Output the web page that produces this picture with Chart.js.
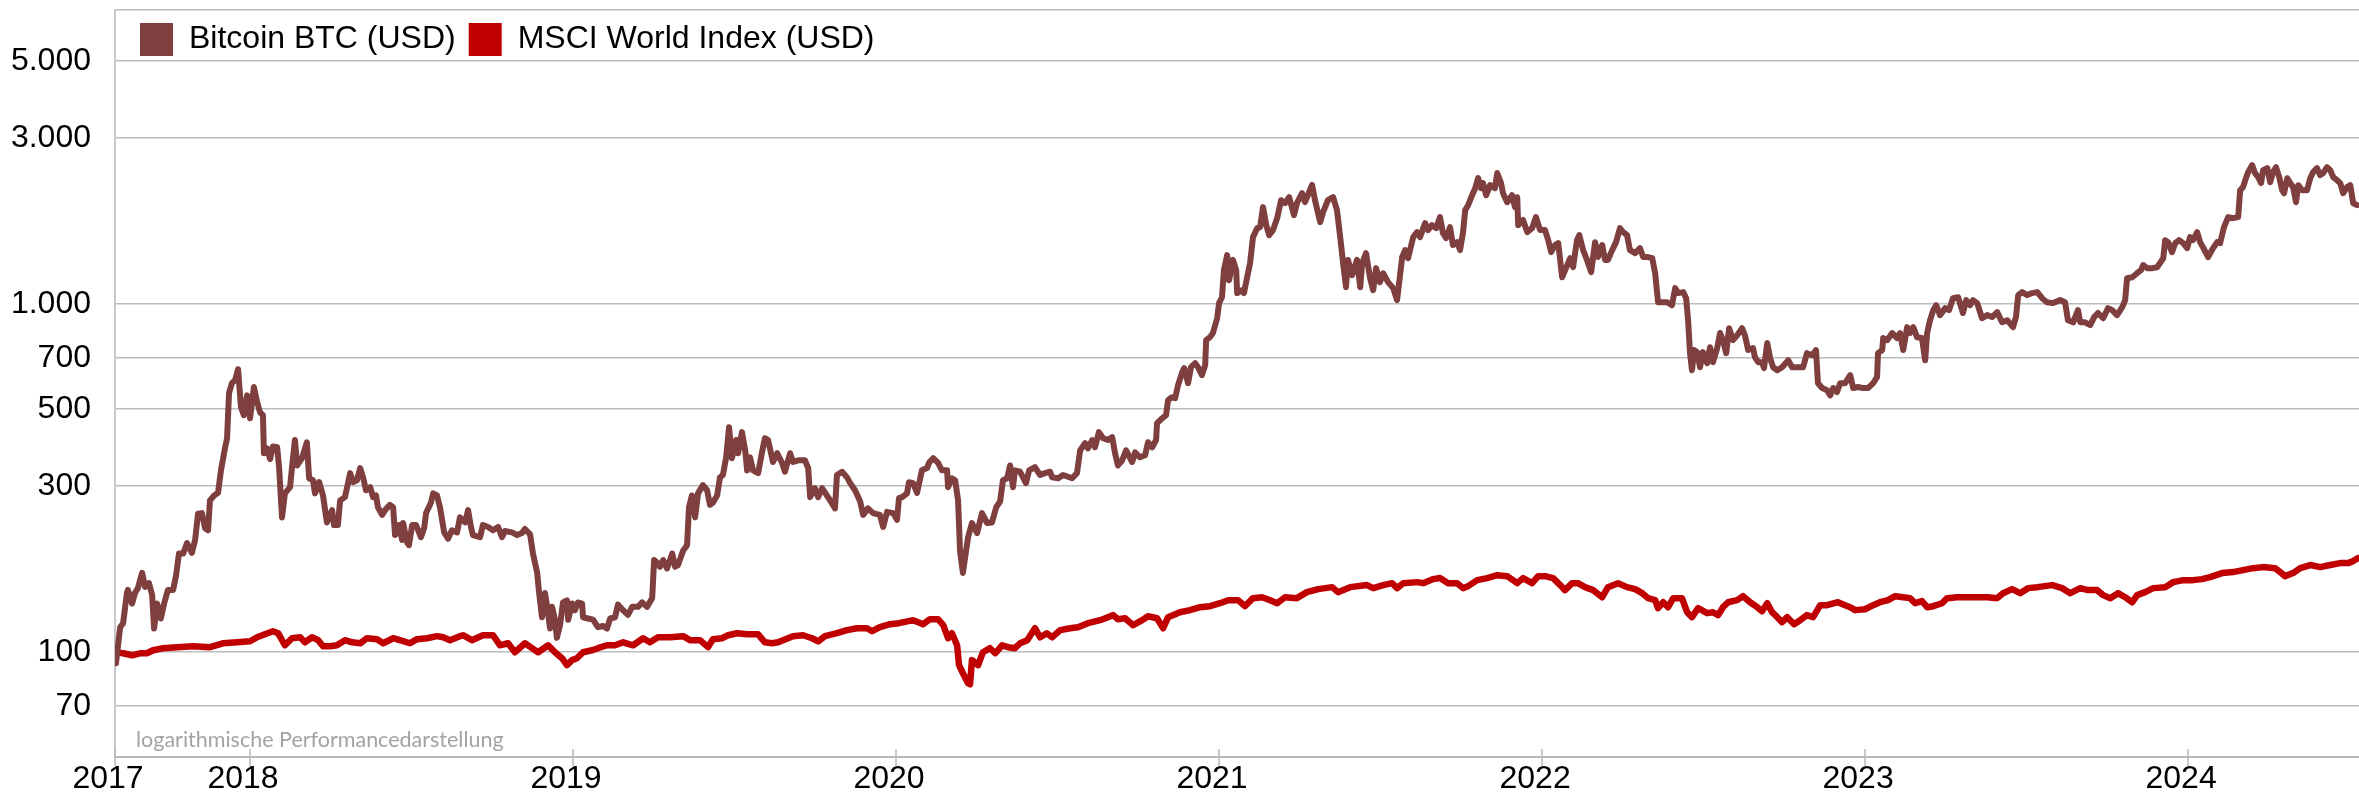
<!DOCTYPE html>
<html>
<head>
<meta charset="utf-8">
<script src="https://cdn.jsdelivr.net/npm/chart.js@4.4.1/dist/chart.umd.min.js"></script>
<style>
html,body{margin:0;padding:0;background:#fff;}
#wrap{position:relative;width:2359px;height:793px;}
</style>
</head>
<body>
<div id="wrap"><canvas id="c"></canvas></div>
<script>
const seriesNames = ['Bitcoin BTC (USD)', 'MSCI World Index (USD)'];

const btcDates = [
2017.582,2017.585,2017.598,2017.607,2017.619,2017.622,2017.635,2017.644,2017.653,2017.666,2017.675,2017.687,2017.697,2017.703,2017.712,2017.724,2017.734,2017.746,2017.762,2017.771,2017.780,2017.793,2017.805,2017.820,2017.830,2017.839,2017.851,2017.861,2017.870,2017.876,2017.889,2017.901,2017.910,2017.923,2017.929,2017.935,2017.944,2017.954,2017.963,2017.972,2017.981,2017.991,
2018.000,2018.012,2018.022,2018.031,2018.040,2018.043,2018.053,2018.062,2018.071,2018.084,2018.090,2018.099,2018.108,2018.124,2018.130,2018.139,2018.146,2018.161,2018.176,2018.183,2018.195,2018.201,2018.214,2018.226,2018.238,2018.254,2018.260,2018.272,2018.279,2018.294,2018.310,2018.319,2018.331,2018.341,2018.350,2018.359,2018.372,2018.381,2018.390,2018.396,2018.409,2018.418,2018.433,2018.443,2018.449,2018.461,2018.471,2018.474,2018.486,2018.492,2018.502,2018.514,2018.529,2018.539,2018.545,2018.560,2018.567,2018.579,2018.588,2018.601,2018.613,2018.625,2018.641,2018.650,
2018.666,2018.675,2018.684,2018.690,2018.712,2018.721,2018.737,2018.752,2018.768,2018.780,2018.789,2018.811,2018.827,2018.842,2018.851,2018.867,2018.876,2018.889,2018.895,2018.904,2018.913,2018.920,2018.929,2018.935,2018.944,2018.950,2018.960,2018.969,2018.981,2018.985,2018.997,
2019.006,2019.015,2019.028,2019.031,2019.046,2019.062,2019.077,2019.093,2019.105,2019.115,2019.130,2019.139,2019.155,2019.170,2019.183,2019.201,2019.214,2019.229,2019.245,2019.251,2019.260,2019.269,2019.279,2019.291,2019.307,2019.316,2019.325,2019.341,2019.353,2019.359,2019.368,2019.378,2019.387,2019.402,2019.415,2019.424,2019.433,2019.446,2019.455,2019.464,2019.474,2019.483,2019.492,2019.505,2019.511,2019.523,2019.533,2019.539,2019.548,2019.557,2019.573,2019.585,2019.594,2019.604,2019.619,2019.632,2019.647,2019.656,2019.672,2019.681,2019.697,2019.718,2019.728,2019.734,2019.749,2019.759,2019.771,2019.786,2019.796,2019.811,2019.817,2019.833,2019.848,2019.858,2019.873,2019.889,2019.898,2019.913,2019.929,2019.950,2019.960,2019.972,2019.991,
2020.003,2020.009,2020.019,2020.034,2020.040,2020.053,2020.065,2020.080,2020.096,2020.102,2020.115,2020.130,2020.142,2020.158,2020.161,2020.173,2020.183,2020.192,2020.198,2020.207,2020.214,2020.223,2020.235,2020.251,2020.266,2020.282,2020.297,2020.310,2020.322,2020.331,2020.344,2020.353,2020.362,2020.368,2020.384,2020.402,2020.412,2020.430,2020.446,2020.461,2020.477,2020.483,2020.502,2020.517,2020.545,2020.560,2020.570,2020.585,2020.594,2020.607,2020.616,2020.628,2020.641,2020.656,2020.669,2020.678,2020.687,2020.700,2020.712,2020.731,2020.740,2020.755,2020.771,2020.780,2020.793,2020.805,2020.808,2020.824,2020.836,2020.842,2020.854,2020.864,2020.873,2020.885,2020.892,2020.904,2020.913,2020.926,2020.935,2020.947,2020.957,2020.960,2020.972,2020.981,2020.994,
2021.000,2021.009,2021.015,2021.025,2021.031,2021.043,2021.053,2021.056,2021.071,2021.077,2021.087,2021.096,2021.105,2021.118,2021.127,2021.136,2021.146,2021.155,2021.167,2021.180,2021.192,2021.204,2021.217,2021.232,2021.241,2021.257,2021.266,2021.279,2021.288,2021.297,2021.313,2021.322,2021.337,2021.353,2021.365,2021.375,2021.384,2021.393,2021.399,2021.412,2021.427,2021.437,2021.443,2021.455,2021.467,2021.477,2021.486,2021.498,2021.508,2021.523,2021.539,2021.551,2021.567,2021.576,2021.585,2021.601,2021.613,2021.622,2021.638,2021.647,2021.659,2021.672,2021.684,2021.693,2021.703,2021.715,2021.724,2021.737,2021.746,2021.755,2021.762,2021.771,2021.786,2021.793,2021.802,2021.811,2021.817,2021.827,2021.839,2021.854,2021.861,2021.873,2021.879,2021.892,2021.907,2021.916,2021.923,2021.926,2021.941,2021.954,2021.969,2021.981,2021.994,
2022.009,2022.019,2022.028,2022.040,2022.050,2022.062,2022.074,2022.087,2022.096,2022.108,2022.115,2022.127,2022.139,2022.152,2022.164,2022.173,2022.186,2022.195,2022.204,2022.217,2022.229,2022.241,2022.251,2022.263,2022.272,2022.288,2022.303,2022.313,2022.328,2022.341,2022.350,2022.359,2022.387,2022.402,2022.412,2022.421,2022.437,2022.446,2022.452,2022.458,2022.464,2022.471,2022.480,2022.489,2022.498,2022.511,2022.520,2022.529,2022.542,2022.551,2022.560,2022.570,2022.579,2022.591,2022.604,2022.619,2022.628,2022.638,2022.653,2022.659,2022.669,2022.681,2022.687,2022.697,2022.706,2022.715,2022.728,2022.743,2022.762,2022.774,2022.789,2022.808,2022.820,2022.836,2022.848,2022.854,2022.867,2022.882,2022.892,2022.901,2022.913,2022.923,2022.938,2022.954,2022.963,2022.978,2022.994,
2023.009,2023.025,2023.037,2023.040,2023.053,2023.056,2023.068,2023.084,2023.099,2023.108,2023.118,2023.130,2023.139,2023.149,2023.161,2023.176,2023.186,2023.192,2023.201,2023.211,2023.220,2023.232,2023.248,2023.260,2023.272,2023.288,2023.303,2023.313,2023.325,2023.334,2023.347,2023.362,2023.378,2023.393,2023.409,2023.424,2023.440,2023.458,2023.467,2023.474,2023.486,2023.502,2023.517,2023.533,2023.548,2023.563,2023.582,2023.604,2023.619,2023.628,2023.644,2023.659,2023.666,2023.681,2023.697,2023.709,2023.721,2023.737,2023.752,2023.765,2023.780,2023.796,2023.805,2023.811,2023.827,2023.842,2023.854,2023.861,2023.873,2023.889,2023.904,2023.913,2023.923,2023.929,2023.938,2023.950,2023.960,2023.972,2023.985,2023.997,
2024.006,2024.015,2024.028,2024.037,2024.046,2024.062,2024.077,2024.090,2024.099,2024.111,2024.124,2024.139,2024.155,2024.161,2024.170,2024.180,2024.186,2024.198,2024.207,2024.217,2024.226,2024.232,2024.245,2024.254,2024.263,2024.272,2024.282,2024.291,2024.297,2024.307,2024.316,2024.325,2024.334,2024.341,2024.353,2024.368,2024.378,2024.387,2024.399,2024.409,2024.418,2024.430,2024.440,2024.449,2024.461,2024.471,2024.480,2024.492,2024.502,2024.511,2024.523
];
const btcValues = [
100,93,118,121,148,151,138,148,153,169,154,158,146,117,138,125,138,151,151,166,192,192,206,193,210,250,251,227,224,273,282,287,333,388,412,555,593,605,650,506,480,547,
470,578,523,489,480,373,385,359,390,388,340,244,286,298,340,407,344,361,401,316,312,286,308,282,236,256,232,232,273,279,327,308,312,338,318,292,298,279,282,261,248,256,265,261,217,232,210,235,207,203,232,232,214,227,251,269,286,282,261,221,212,224,221,244,
236,256,229,217,214,232,229,224,229,214,223,221,217,220,226,218,192,169,148,126,148,135,117,135,124,110,120,139,141,124,138,
132,139,138,126,125,124,118,119,117,125,126,137,132,128,135,135,139,135,143,184,181,176,184,174,192,176,178,196,203,261,282,244,286,302,292,265,269,282,318,323,363,443,361,407,373,429,380,333,363,333,327,375,412,407,352,373,350,330,373,352,356,356,338,279,296,279,296,282,273,259,323,330,318,306,292,271,248,259,251,248,229,253,251,
240,277,279,286,308,306,287,333,338,350,361,350,333,333,298,316,312,273,196,169,188,214,235,220,251,235,236,261,271,312,316,344,298,333,330,306,333,340,323,327,330,318,316,323,316,327,380,399,385,407,388,429,412,407,415,373,344,356,380,352,375,363,368,401,388,407,455,470,480,530,540,537,585,634,655,593,659,677,659,625,668,788,804,826,911,
1007,1047,1252,1383,1172,1340,1252,1076,1097,1076,1195,1312,1558,1653,1664,1900,1687,1579,1632,1767,1989,1950,2029,1802,1950,2083,1963,2100,2200,1989,1720,1839,1989,2029,1863,1558,1312,1119,1340,1211,1340,1119,1312,1401,1195,1097,1269,1157,1227,1157,1112,1027,1366,1430,1355,1558,1611,1558,1709,1632,1687,1653,1779,1600,1548,1664,1478,1507,1430,1600,1863,1925,2083,2154,2302,2154,2227,2055,2197,2154,2380,2227,2083,1963,2055,1900,2029,1687,1745,1611,1653,1779,1632,
1632,1527,1411,1478,1497,1195,1269,1355,1277,1527,1579,1430,1340,1236,1507,1366,1478,1340,1340,1430,1507,1653,1611,1579,1430,1401,1448,1366,1366,1355,1227,1013,1013,993,1112,1076,1083,1040,899,723,646,738,728,659,728,677,752,681,748,826,788,723,853,788,814,853,814,738,748,704,681,681,655,773,700,659,646,659,690,659,659,659,723,713,738,593,574,566,547,574,559,593,593,625,574,578,574,
574,593,617,723,738,799,788,826,799,826,738,859,826,859,803,799,690,826,899,961,993,930,974,961,1040,1047,943,1027,993,1027,1007,911,930,918,949,887,899,859,918,1062,1083,1062,1076,1083,1040,1013,1007,1027,1013,899,887,961,887,887,871,918,943,911,974,961,930,981,1027,1187,1195,1227,1252,1295,1269,1269,1277,1312,1355,1527,1507,1411,1497,1527,1497,1448,
1558,1527,1611,1507,1458,1366,1448,1507,1497,1664,1779,1767,1779,2125,2169,2317,2395,2508,2380,2317,2227,2427,2459,2241,2395,2475,2317,2125,2083,2300,2227,2169,1963,2197,2125,2125,2300,2395,2459,2348,2380,2475,2427,2317,2271,2227,2083,2169,2197,1950,1925
];

const msciDates = [
2017.582,2017.607,2017.635,2017.659,2017.681,2017.700,2017.731,2017.774,2017.824,2017.876,2017.916,2017.960,
2018.000,2018.022,2018.046,2018.071,2018.087,2018.108,2018.130,2018.155,2018.170,2018.192,2018.211,2018.226,2018.248,2018.269,2018.294,2018.316,2018.341,2018.362,2018.393,2018.412,2018.443,2018.464,2018.495,2018.517,2018.548,2018.579,2018.598,2018.619,2018.650,2018.659,2018.687,2018.721,2018.752,2018.774,2018.799,2018.820,2018.851,2018.873,2018.892,2018.923,2018.944,2018.966,2018.981,2018.997,
2019.012,2019.031,2019.059,2019.077,2019.105,2019.130,2019.155,2019.186,2019.217,2019.238,2019.263,2019.300,2019.341,2019.362,2019.393,2019.418,2019.433,2019.461,2019.480,2019.508,2019.539,2019.573,2019.594,2019.616,2019.635,2019.650,2019.681,2019.712,2019.740,2019.759,2019.780,2019.817,2019.848,2019.879,2019.910,2019.926,2019.950,2019.981,
2020.009,2020.053,2020.084,2020.105,2020.130,2020.146,2020.161,2020.173,2020.189,2020.195,2020.207,2020.223,2020.229,2020.235,2020.254,2020.269,2020.291,2020.307,2020.328,2020.347,2020.368,2020.384,2020.406,2020.430,2020.446,2020.467,2020.483,2020.508,2020.539,2020.563,2020.594,2020.632,2020.656,2020.672,2020.687,2020.709,2020.734,2020.762,2020.780,2020.808,2020.827,2020.842,2020.879,2020.910,2020.941,2020.972,
2021.003,2021.028,2021.059,2021.080,2021.105,2021.133,2021.158,2021.180,2021.204,2021.241,2021.272,2021.307,2021.350,2021.368,2021.406,2021.458,2021.477,2021.508,2021.536,2021.551,2021.570,2021.613,2021.632,2021.663,2021.684,2021.709,2021.737,2021.755,2021.771,2021.799,2021.830,2021.861,2021.892,2021.923,2021.941,2021.969,2021.988,
2022.009,2022.034,2022.056,2022.071,2022.093,2022.111,2022.133,2022.158,2022.186,2022.204,2022.235,2022.263,2022.288,2022.310,2022.328,2022.350,2022.359,2022.375,2022.390,2022.406,2022.433,2022.449,2022.464,2022.483,2022.511,2022.529,2022.545,2022.560,2022.576,2022.604,2022.622,2022.644,2022.666,2022.681,2022.697,2022.712,2022.728,2022.743,2022.759,2022.780,2022.799,2022.820,2022.839,2022.861,2022.882,2022.916,2022.938,2022.954,2022.969,
2023.000,2023.025,2023.046,2023.071,2023.093,2023.118,2023.139,2023.155,2023.176,2023.192,2023.211,2023.238,2023.254,2023.285,2023.316,2023.347,2023.378,2023.409,2023.427,2023.455,2023.480,2023.505,2023.533,2023.579,2023.610,2023.635,2023.666,2023.690,2023.718,2023.737,2023.759,2023.783,2023.805,2023.827,2023.842,2023.867,2023.892,2023.929,2023.954,2023.985,
2024.015,2024.043,2024.068,2024.105,2024.139,2024.170,2024.201,2024.232,2024.269,2024.285,2024.300,2024.325,2024.347,2024.378,2024.409,2024.440,2024.471,2024.495,2024.511,2024.526
];
const msciValues = [
100,99.3,98.0,99.3,99.3,101.3,102.7,103.4,104.0,103.4,106.1,106.8,
107.5,110.4,112.6,114.9,113.4,104.7,109.7,110.4,106.8,110.4,108.3,104.0,104.0,104.7,108.3,106.8,106.1,109.7,109.0,106.1,109.7,108.3,106.1,109.0,109.7,111.2,110.4,108.3,111.2,111.9,108.3,111.9,111.9,104.7,106.1,100,106.1,102.7,100,104.7,100,96.1,91.8,94.9,
96.1,100,101.3,102.7,104.7,104.7,106.8,104.7,109.7,106.8,110.4,110.4,111.2,108.3,108.3,103.4,109.0,109.7,111.9,113.4,112.6,112.6,106.8,106.1,106.8,108.3,111.2,111.9,109.7,107.5,111.2,113.4,115.7,117.2,117.2,114.9,118.0,120.4,
121.2,123.6,120.4,124.4,124.4,119.6,109.7,113.4,104.7,91.8,87.0,81.5,80.9,94.9,91.8,100,102.7,99.3,104.7,103.4,102.7,106.1,108.3,117.2,110.4,113.4,110.4,115.7,117.2,118.0,121.2,123.6,126.1,127.8,124.4,125.2,119.6,123.6,126.9,125.2,117.2,126.1,130.3,132.1,134.7,135.6,
138.3,141.1,141.1,135.6,143.0,143.9,141.1,138.3,143.9,143.0,148.8,151.8,153.8,148.8,153.8,155.9,152.8,155.9,157.9,152.8,157.9,159.0,157.9,162.2,163.3,157.9,157.9,152.8,154.8,161.1,163.3,166.5,165.4,157.9,163.3,157.9,165.4,
165.4,163.3,155.9,150.8,157.9,157.9,153.8,150.8,143.9,153.8,157.9,153.8,151.8,147.8,143.0,141.1,133.8,139.2,134.7,143.0,143.0,130.3,126.1,133.8,129.5,130.3,127.8,134.7,139.2,141.1,144.9,139.2,134.7,131.2,138.3,130.3,126.1,122.0,126.1,120.4,123.6,127.8,126.1,136.5,136.5,139.2,136.5,134.7,132.1,
132.9,136.5,139.2,141.1,144.9,143.9,143.0,138.3,140.2,134.7,135.6,138.3,143.0,143.9,143.9,143.9,143.9,143.0,147.8,151.8,147.8,152.8,153.8,155.9,152.8,147.8,152.8,150.8,150.8,145.9,143.0,147.8,143.9,139.2,145.9,148.8,152.8,153.8,159.0,161.1,
161.1,162.2,164.3,168.8,169.9,172.2,174.4,175.6,174.4,169.9,165.4,168.8,174.4,178.0,175.6,178.0,180.3,180.3,182.7,186.4
];

const xRange = [2017.582, 2024.529];
const xTickValues = [2017.582, 2018, 2019, 2020, 2021, 2022, 2023, 2024];
const xTickLabels = ['2017', '2018', '2019', '2020', '2021', '2022', '2023', '2024'];
const yRange = [50, 7000];
const yTickValues = [70, 100, 300, 500, 700, 1000, 3000, 5000, 7000];
const yTickLabels = ['70', '100', '300', '500', '700', '1.000', '3.000', '5.000', ''];
const noteText = 'logarithmische Performancedarstellung';

const FONT = "'Liberation Sans', Arial, sans-serif";
const colBTC = '#7f3f3f';
const colMSCI = '#c00000';
const gridCol = '#bdbdbd';

const extras = {
  id: 'extras',
  beforeUpdate(chart) {
    if (chart.legend && !chart.legend._forcedH) {
      chart.legend.isHorizontal = () => true;
      chart.legend._forcedH = true;
    }
  },
  afterLayout(chart) {
    const lg = chart.legend, ca = chart.chartArea;
    if (lg) {
      lg.left = ca.left + 12;
      lg.right = ca.right;
      lg.width = ca.right - lg.left;
      lg.top = ca.top;
    }
  },
  afterDraw(chart) {
    const {ctx, chartArea: ca} = chart;
    const x = chart.scales.x;
    ctx.save();
    ctx.strokeStyle = '#b8b8b8';
    ctx.lineWidth = 1.5;
    x.ticks.forEach(t => {
      const px = Math.round(x.getPixelForValue(t.value));
      ctx.beginPath();
      ctx.moveTo(px, ca.bottom - 8);
      ctx.lineTo(px, ca.bottom + 9);
      ctx.stroke();
    });
    ctx.fillStyle = '#a3a3a3';
    ctx.font = "21.5px Lato, 'Open Sans', sans-serif";
    ctx.textAlign = 'left';
    ctx.textBaseline = 'alphabetic';
    ctx.fillText(noteText, ca.left + 21, ca.bottom - 10);
    ctx.restore();
  }
};

new Chart(document.getElementById('c'), {
  type: 'line',
  data: {
    datasets: [
      {
        label: seriesNames[0],
        data: btcDates.map((d, i) => ({x: d, y: btcValues[i]})),
        borderColor: colBTC, backgroundColor: colBTC,
        borderWidth: 6, pointRadius: 0, tension: 0,
        borderJoinStyle: 'round', borderCapStyle: 'round'
      },
      {
        label: seriesNames[1],
        data: msciDates.map((d, i) => ({x: d, y: msciValues[i]})),
        borderColor: colMSCI, backgroundColor: colMSCI,
        borderWidth: 6.5, pointRadius: 0, tension: 0,
        borderJoinStyle: 'round', borderCapStyle: 'round'
      }
    ]
  },
  options: {
    responsive: true,
    maintainAspectRatio: false,
    animation: false,
    devicePixelRatio: 1,
    layout: {padding: {top: 10, left: 0, right: 0, bottom: 0}},
    plugins: {
      legend: {
        position: 'chartArea',
        align: 'start',
        labels: {
          boxWidth: 33, boxHeight: 33, padding: 13, color: '#000',
          font: {family: FONT, size: 32},
          generateLabels: (c) => Chart.defaults.plugins.legend.labels.generateLabels(c).map(l => Object.assign(l, {lineWidth: 0}))
        }
      },
      tooltip: {enabled: false}
    },
    scales: {
      x: {
        type: 'linear',
        min: xRange[0], max: xRange[1],
        grid: {display: false},
        border: {display: true, color: '#b8b8b8', width: 2},
        afterBuildTicks: s => { s.ticks = xTickValues.map(v => ({value: v})); },
        afterFit: s => { s.height = 36; s.paddingLeft = 0; s.paddingRight = 0; },
        ticks: {
          autoSkip: false, maxRotation: 0, minRotation: 0, padding: -5, labelOffset: -7,
          color: '#000', font: {family: FONT, size: 32},
          callback: (v, i) => xTickLabels[i]
        }
      },
      y: {
        type: 'logarithmic',
        min: yRange[0], max: yRange[1],
        grid: {color: gridCol, lineWidth: 1.5, drawTicks: false},
        border: {display: true, color: '#c8c8c8', width: 2},
        afterBuildTicks: s => { s.ticks = yTickValues.map(v => ({value: v})); },
        afterFit: s => { s.width = 115; s.paddingTop = 0; s.paddingBottom = 0; },
        ticks: {
          autoSkip: false, padding: 24,
          color: '#000', font: {family: FONT, size: 32},
          callback: (v, i) => yTickLabels[i]
        }
      }
    }
  },
  plugins: [extras]
});
</script>
</body>
</html>
